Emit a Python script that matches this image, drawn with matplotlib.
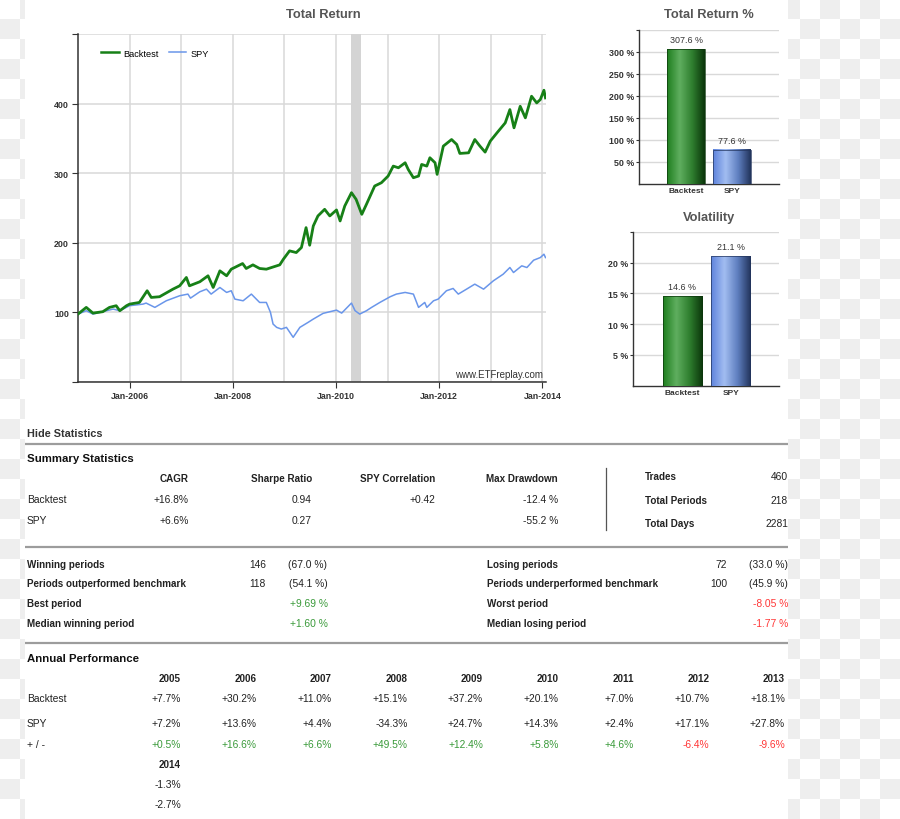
import numpy as np
import matplotlib
matplotlib.use("Agg")
import matplotlib.pyplot as plt
from matplotlib.colors import LinearSegmentedColormap, ListedColormap
from matplotlib.patches import Rectangle
from matplotlib.lines import Line2D

plt.rcParams['font.family'] = ['Liberation Sans', 'DejaVu Sans']

# ---------------- data ----------------
bt_years = [2005.00, 2005.16, 2005.29, 2005.48, 2005.61, 2005.74, 2005.81, 2005.94, 2006.00,
            2006.19, 2006.34, 2006.42, 2006.58, 2006.84, 2006.97, 2007.10, 2007.16, 2007.36,
            2007.52, 2007.62, 2007.75, 2007.88, 2007.97, 2008.19, 2008.26, 2008.39, 2008.52,
            2008.65, 2008.91, 2008.98, 2009.10, 2009.23, 2009.33, 2009.42, 2009.49, 2009.56,
            2009.65, 2009.78, 2009.88, 2010.01, 2010.08, 2010.17, 2010.30, 2010.39, 2010.50,
            2010.59, 2010.75, 2010.88, 2011.01, 2011.11, 2011.21, 2011.34, 2011.40, 2011.50,
            2011.60, 2011.66, 2011.76, 2011.82, 2011.92, 2011.96, 2012.08, 2012.24, 2012.34,
            2012.40, 2012.57, 2012.69, 2012.79, 2012.89, 2012.99, 2013.12, 2013.28, 2013.37,
            2013.45, 2013.57, 2013.67, 2013.79, 2013.89, 2013.96, 2014.03, 2014.06]
bt_values = [97.6, 107.2, 99.0, 101.0, 107.2, 109.6, 102.4, 109.6, 111.9,
             114.3, 131.1, 121.5, 122.5, 133.4, 138.2, 150.2, 138.2, 144.0,
             152.6, 135.8, 159.7, 152.6, 162.1, 170.2, 163.1, 168.3, 163.1,
             162.1, 168.3, 176.4, 188.4, 186.0, 193.2, 221.8, 196.5, 224.2,
             238.6, 248.1, 238.6, 247.2, 231.4, 252.9, 272.0, 262.4, 240.9,
             255.3, 281.6, 286.3, 295.9, 310.2, 307.8, 315.0, 305.4, 293.5,
             295.9, 312.6, 310.2, 322.2, 315.0, 298.3, 338.9, 348.4, 341.3,
             328.4, 329.3, 348.4, 338.9, 330.3, 346.1, 358.0, 372.3, 391.4,
             365.2, 396.2, 379.5, 410.6, 401.0, 405.8, 419.2, 408.2]

spy_years = [2005.00, 2005.16, 2005.29, 2005.48, 2005.68, 2005.81, 2006.00, 2006.26, 2006.32,
             2006.49, 2006.71, 2006.97, 2007.13, 2007.18, 2007.36, 2007.49, 2007.58, 2007.75,
             2007.88, 2007.97, 2008.04, 2008.20, 2008.36, 2008.52, 2008.65, 2008.73, 2008.78,
             2008.85, 2008.94, 2009.04, 2009.17, 2009.30, 2009.46, 2009.56, 2009.75, 2010.01,
             2010.11, 2010.30, 2010.37, 2010.46, 2010.59, 2010.69, 2010.85, 2011.05, 2011.17,
             2011.34, 2011.50, 2011.60, 2011.72, 2011.76, 2011.89, 2011.98, 2012.14, 2012.27,
             2012.37, 2012.53, 2012.69, 2012.86, 2013.05, 2013.24, 2013.37, 2013.44, 2013.60,
             2013.70, 2013.83, 2013.96, 2014.03, 2014.06]
spy_values = [97.6, 102.4, 97.6, 101.0, 104.8, 102.4, 109.6, 111.9, 113.4,
              107.2, 116.7, 123.9, 126.3, 120.5, 129.6, 133.4, 126.3, 135.8,
              128.7, 131.1, 119.1, 116.7, 126.3, 114.3, 114.3, 100.0, 83.3,
              78.5, 76.1, 78.5, 64.2, 78.5, 85.7, 90.4, 98.6, 103.3,
              99.0, 113.4, 102.4, 97.6, 102.4, 107.2, 114.3, 122.5, 126.3,
              128.7, 126.3, 107.2, 114.3, 107.2, 116.7, 119.1, 131.1, 134.4,
              126.3, 133.4, 140.6, 133.4, 145.4, 154.9, 164.5, 157.3, 166.9,
              164.5, 175.0, 178.8, 183.6, 178.8]

shade_start, shade_end = 2010.30, 2010.49
x_tick_years = [2006, 2008, 2010, 2012, 2014]
x_tick_labels = ['Jan-2006', 'Jan-2008', 'Jan-2010', 'Jan-2012', 'Jan-2014']
y_ticks = [0, 100, 200, 300, 400, 500]
y_tick_labels = ['', '100', '200', '300', '400', '']

bar_names = ['Backtest', 'SPY']
total_return_pct = [307.6, 77.6]
volatility_pct = [14.6, 21.1]
tr_ticks = [50, 100, 150, 200, 250, 300]
vol_ticks = [5, 10, 15, 20]

summary_cols = ['CAGR', 'Sharpe Ratio', 'SPY Correlation', 'Max Drawdown']
summary_rows = ['Backtest', 'SPY']
summary_backtest = ['+16.8%', '0.94', '+0.42', '-12.4 %']
summary_spy = ['+6.6%', '0.27', '', '-55.2 %']
side_labels = ['Trades', 'Total Periods', 'Total Days']
side_values = ['460', '218', '2281']

left_labels = ['Winning periods', 'Periods outperformed benchmark', 'Best period', 'Median winning period']
left_counts = ['146', '118', '', '']
left_pcts = ['(67.0 %)', '(54.1 %)', '+9.69 %', '+1.60 %']
right_labels = ['Losing periods', 'Periods underperformed benchmark', 'Worst period', 'Median losing period']
right_counts = ['72', '100', '', '']
right_pcts = ['(33.0 %)', '(45.9 %)', '-8.05 %', '-1.77 %']

years = ['2005', '2006', '2007', '2008', '2009', '2010', '2011', '2012', '2013']
annual_backtest = ['+7.7%', '+30.2%', '+11.0%', '+15.1%', '+37.2%', '+20.1%', '+7.0%', '+10.7%', '+18.1%']
annual_spy = ['+7.2%', '+13.6%', '+4.4%', '-34.3%', '+24.7%', '+14.3%', '+2.4%', '+17.1%', '+27.8%']
annual_diff = ['+0.5%', '+16.6%', '+6.6%', '+49.5%', '+12.4%', '+5.8%', '+4.6%', '-6.4%', '-9.6%']
year_extra = '2014'
annual_backtest_extra = '-1.3%'
annual_spy_extra = '-2.7%'

# ---------------- figure ----------------
W, H = 900, 820
fig = plt.figure(figsize=(9, 8.2), dpi=100)

def P(x, y):
    return (x / W, 1 - y / H)

def axrect(l, t, r, b):
    return [l / W, 1 - b / H, (r - l) / W, (b - t) / H]

# background checkerboard + white panel
bg = fig.add_axes([0, 0, 1, 1], zorder=-10)
nr, nc = H // 20 + 1, W // 20 + 1
board = (np.add.outer(np.arange(nr), np.arange(nc)) % 2).astype(float)
bg.imshow(board, cmap=ListedColormap(['#ffffff', '#eeeeee']), extent=(0, nc * 20, nr * 20, 0),
          interpolation='nearest', aspect='auto')
bg.add_patch(Rectangle((25, 0), 763, H, facecolor='white', edgecolor='none'))
bg.set_xlim(0, W)
bg.set_ylim(H, 0)
bg.axis('off')

GRID = '#d9d9d9'
AXC = '#333333'
TXT = '#333333'

# ---------------- main line chart ----------------
ax = fig.add_axes(axrect(78, 35, 546, 383))
ax.set_xlim(2005.0, 2014.07)
ax.set_ylim(0, 500)
ax.axvspan(shade_start, shade_end, color='#d4d4d4', zorder=1, lw=0)
ax.plot(spy_years, spy_values, color='#6a96ea', lw=1.1, zorder=3, label='SPY')
ax.plot(bt_years, bt_values, color='#178017', lw=2.0, zorder=4, label='Backtest')
ax.set_xticks(x_tick_years)
ax.set_xticklabels(x_tick_labels)
ax.set_xticks(list(range(2007, 2014, 2)), minor=True)
ax.set_yticks(y_ticks)
ax.set_yticklabels(y_tick_labels)
ax.grid(True, which='both', color=GRID, lw=1.1, zorder=0)
ax.set_axisbelow(True)
for s in ['top', 'right']:
    ax.spines[s].set_visible(False)
for s in ['left', 'bottom']:
    ax.spines[s].set_color(AXC)
    ax.spines[s].set_linewidth(1.1)
ax.tick_params(axis='both', which='major', length=4, width=0.8, color=AXC, pad=2.5,
               labelsize=6.4, labelcolor=TXT)
ax.tick_params(axis='x', which='minor', length=0)
for lab in ax.get_xticklabels() + ax.get_yticklabels():
    lab.set_fontweight('bold')
handles = [Line2D([], [], color='#178017', lw=1.8), Line2D([], [], color='#6a96ea', lw=1.1)]
ax.legend(handles, ['Backtest', 'SPY'], loc='center left', bbox_to_anchor=(0.05, 0.945),
          ncol=2, frameon=False, fontsize=6.6, handlelength=1.9, handletextpad=0.5,
          columnspacing=1.1, borderaxespad=0, borderpad=0)
ax.text(0.994, 0.023, 'www.ETFreplay.com', transform=ax.transAxes, ha='right', va='center',
        fontsize=7, color=TXT)
fig.text(*P(323, 15), 'Total Return', ha='center', va='center', fontsize=9.3,
         fontweight='bold', color='#555555')

# ---------------- bar charts ----------------
green_cmap = LinearSegmentedColormap.from_list('g', ['#1f7f1f', '#5fae5f', '#2f7f2f', '#0b360b'],)
blue_cmap = LinearSegmentedColormap.from_list('b', ['#5f84dc', '#a2bdf1', '#5f7fc0', '#22345c'])
grad = np.linspace(0, 1, 64).reshape(1, -1)

def bar_chart(rect, values, ticks, ymax, xlim, title, title_xy, width):
    bax = fig.add_axes(rect)
    cmaps = [green_cmap, blue_cmap]
    edges = ['#0b360b', '#22345c']
    for i, v in enumerate(values):
        bax.imshow(grad, cmap=cmaps[i], extent=(i - width / 2, i + width / 2, 0, v),
                   aspect='auto', zorder=3, interpolation='bicubic')
        bax.add_patch(Rectangle((i - width / 2, 0), width, v, facecolor='none',
                                edgecolor=edges[i], lw=0.5, zorder=4))
        bax.annotate(f'{v:.1f} %', (i, v), xytext=(0, 6.6), textcoords='offset points',
                     ha='center', va='center', fontsize=6.4, color=TXT)
    bax.set_xlim(*xlim)
    bax.set_ylim(0, ymax)
    bax.set_yticks(ticks + [ymax])
    bax.set_yticklabels([f'{t} %' for t in ticks] + [''])
    bax.set_xticks(range(len(values)))
    bax.set_xticklabels(bar_names)
    bax.grid(True, axis='y', color=GRID, lw=1.0, zorder=0)
    bax.set_axisbelow(True)
    for s in ['top', 'right']:
        bax.spines[s].set_visible(False)
    for s in ['left', 'bottom']:
        bax.spines[s].set_color(AXC)
        bax.spines[s].set_linewidth(1.0)
    bax.tick_params(axis='y', length=2, width=0.8, color=AXC, pad=1.5, labelsize=6.4,
                    labelcolor=TXT)
    bax.tick_params(axis='x', length=0, pad=2.5, labelsize=6.0, labelcolor=TXT)
    for lab in bax.get_xticklabels() + bax.get_yticklabels():
        lab.set_fontweight('bold')
    fig.text(*P(*title_xy), title, ha='center', va='center', fontsize=9.3,
             fontweight='bold', color='#555555')
    return bax

bar_chart(axrect(639, 31, 779, 184.6), total_return_pct, tr_ticks, 350, (-1.02, 2.01),
          'Total Return %', (709, 15), 0.82)
bar_chart(axrect(633.3, 233, 779.3, 386.7), volatility_pct, vol_ticks, 25, (-1.01, 2.0),
          'Volatility', (709, 218), 0.81)

# ---------------- statistics text ----------------
DARK = '#222222'
GREEN_T = '#3a9a3a'
RED_T = '#ff3636'
REG = 7.4
BLD = 7.1

def T(x, y, s, ha='left', bold=False, size=None, color=DARK):
    fig.text(*P(x, y), s, ha=ha, va='center', fontsize=size or (BLD if bold else REG),
             fontweight='bold' if bold else 'normal', color=color)

def hline(y, x0=25, x1=788):
    bg.plot([x0, x1], [y, y], color='#9c9c9c', lw=1.6, solid_capstyle='butt')

T(27, 434, 'Hide Statistics', bold=True, size=7.8, color='#333333')
hline(444.5)
T(27, 459, 'Summary Statistics', bold=True, size=8.2, color='#111111')

sum_right = [189, 312, 435.5, 558]
for x, c in zip(sum_right, summary_cols):
    T(x, 479, c, ha='right', bold=True)
for y, name, vals in zip([500.5, 521], summary_rows, [summary_backtest, summary_spy]):
    T(27, y, name)
    for x, v in zip(sum_right, vals):
        T(x, y, v, ha='right')
bg.plot([606, 606], [469, 531], color='#555555', lw=0.9)
for y, lab, val in zip([477, 500.7, 524], side_labels, side_values):
    T(645, y, lab, bold=True)
    T(788, y, val, ha='right')
hline(547.5)

row_y = [565, 584.3, 604.3, 624.3]
for i, y in enumerate(row_y):
    T(27, y, left_labels[i], bold=True)
    T(266, y, left_counts[i], ha='right')
    col = DARK if i < 2 else GREEN_T
    T(327.5, y, left_pcts[i], ha='right', color=col)
    T(487, y, right_labels[i], bold=True)
    T(727, y, right_counts[i], ha='right')
    col = DARK if i < 2 else RED_T
    T(788, y, right_pcts[i], ha='right', color=col)
hline(643.5)

T(27, 659.3, 'Annual Performance', bold=True, size=8.2, color='#111111')
T(27, 699, 'Backtest')
T(27, 724, 'SPY')
T(27, 745, '+ / -')
for i, yr in enumerate(years):
    xr = 181 + 75.5 * i
    T(xr, 679.3, yr, ha='right', bold=True)
    T(xr, 699, annual_backtest[i], ha='right')
    T(xr, 724, annual_spy[i], ha='right')
    col = GREEN_T if annual_diff[i].startswith('+') else RED_T
    T(xr, 745, annual_diff[i], ha='right', color=col)
T(181, 765.3, year_extra, ha='right', bold=True)
T(181, 785.3, annual_backtest_extra, ha='right')
T(181, 804.7, annual_spy_extra, ha='right')

fig.savefig('out.png', dpi=100)
